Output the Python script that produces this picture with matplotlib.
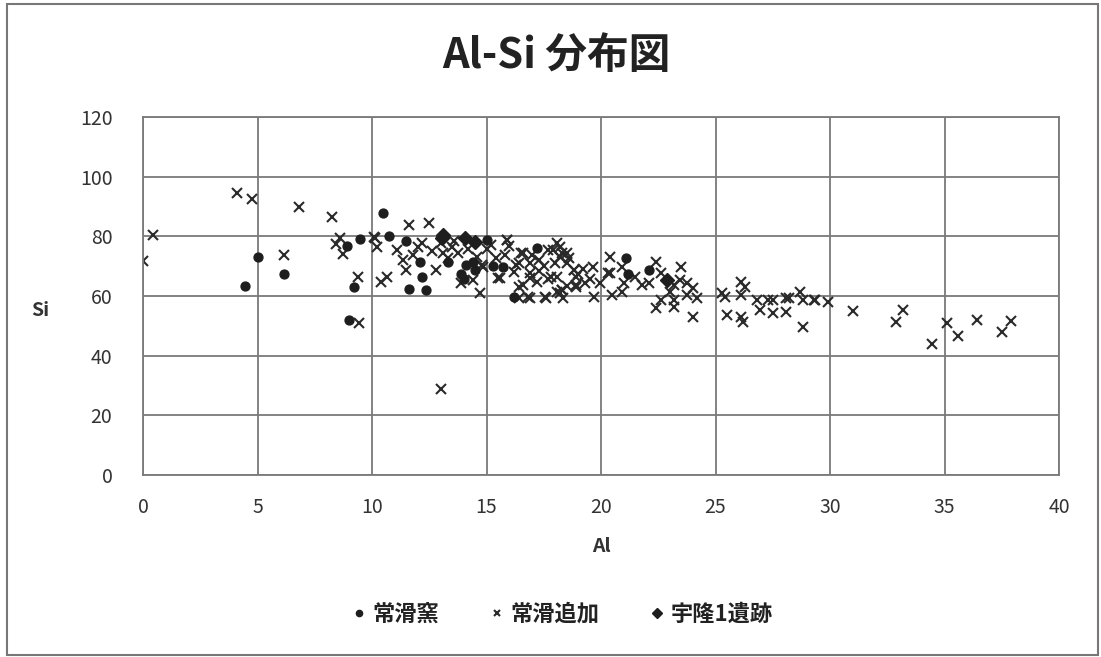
import matplotlib.pyplot as plt
from matplotlib.patches import Rectangle

plt.rcParams["font.family"] = ["Noto Sans CJK JP", "DejaVu Sans"]

# 常滑窯 (黒丸)
kama_al = [5.0, 4.45, 6.16, 8.9, 9.48, 9.2, 9.0, 10.5, 10.74, 11.5, 12.1, 12.2, 11.6,
           12.36, 13.3, 13.9, 14.0, 14.1, 14.4, 14.5, 15.0, 15.3, 15.7, 16.2, 17.2,
           21.1, 22.1, 21.2]
kama_si = [73.1, 63.4, 67.4, 76.8, 79.1, 63.0, 52.0, 87.8, 80.1, 78.4, 71.4, 66.4, 62.4,
           62.0, 71.4, 67.4, 65.7, 70.4, 71.4, 68.7, 78.8, 70.1, 69.7, 59.7, 76.1,
           72.7, 68.7, 67.4]

# 常滑追加 (×)
tsuika_al = [0.0, 0.44, 4.1, 4.76, 6.8, 6.16, 8.25, 8.43, 8.6, 8.73, 10.13, 10.2, 9.4,
             10.4, 10.65, 9.43, 13.0,
             11.6, 12.5, 10.1, 11.1, 11.35, 11.5, 12.0, 12.2, 11.8, 12.8, 13.1, 13.5,
             13.75, 13.9, 14.4, 14.7, 14.85, 15.2, 15.5, 15.9, 15.8, 16.5, 16.3, 16.6,
             16.8, 16.9, 17.2, 17.55, 17.9, 18.0, 18.2, 18.3, 18.35, 17.8, 18.1,
             15.9, 16.6, 16.4, 16.9, 17.3, 17.7, 18.1, 18.2, 18.5, 18.8, 18.9, 18.5,
             18.1, 17.7, 17.3, 16.9, 16.4, 16.9, 16.4, 15.6, 14.8, 17.6, 18.2, 18.9,
             19.2,
             13.3, 13.6, 14.2, 14.6, 15.0, 15.4, 16.0, 16.2, 17.0, 17.5, 18.6, 19.0,
             19.5, 12.6, 13.0,
             18.3, 18.5, 18.8, 18.3, 18.9, 19.3, 19.65, 19.7, 19.96, 20.4, 20.4, 20.3,
             20.5, 20.9, 21.0, 20.9, 21.5, 21.8, 22.1, 22.4, 22.6, 22.6, 22.4, 23.0,
             23.2, 23.2, 23.2, 23.5, 23.45, 23.75, 23.75, 24.0, 24.2, 24.0, 25.3, 25.4,
             26.1, 26.3, 26.1, 25.5, 26.1, 26.2, 26.8, 26.95, 27.3, 27.5, 27.5, 28.1,
             28.1, 28.2, 28.7, 28.8, 28.8, 29.3,
             29.35, 29.9, 31.0, 32.9, 33.2, 34.45, 35.1, 35.6, 36.4, 37.5, 37.9]
tsuika_si = [71.7, 80.5, 94.5, 92.5, 89.8, 73.8, 86.5, 77.4, 79.4, 74.1, 79.4, 76.4, 66.4,
             64.7, 66.4, 51.0, 28.8,
             83.8, 84.5, 79.8, 75.4, 72.1, 68.7, 76.4, 77.8, 73.7, 68.7, 74.4, 76.4,
             74.4, 64.4, 65.4, 61.0, 69.7, 77.1, 66.0, 78.8, 73.7, 74.4, 70.4, 63.7,
             59.7, 67.7, 64.7, 59.7, 75.4, 71.1, 76.4, 62.0, 59.3, 66.4, 66.4,
             78.8, 74.4, 71.1, 71.1, 72.1, 75.4, 77.8, 73.1, 74.4, 68.7, 66.4, 63.4,
             61.3, 65.8, 68.4, 66.1, 63.1, 59.3, 59.3, 66.0, 70.4, 59.3, 60.9, 63.7,
             69.1,
             72.8, 78.6, 75.6, 73.0, 75.9, 72.6, 76.9, 68.1, 73.6, 70.2, 72.9, 67.4,
             65.6, 75.1, 77.6,
             74.4, 71.1, 68.7, 62.0, 63.0, 64.4, 69.7, 59.7, 64.4, 73.1, 67.7, 67.7,
             60.3, 69.7, 64.4, 61.3, 66.4, 63.7, 64.4, 71.4, 67.7, 58.7, 56.0, 61.3,
             63.7, 58.7, 56.3, 69.7, 65.4, 64.4, 60.3, 62.7, 59.3, 53.0, 61.0, 59.7,
             64.7, 63.0, 60.3, 53.6, 53.0, 51.3, 58.7, 55.3, 58.7, 54.3, 58.7, 59.3,
             54.6, 59.3, 61.3, 58.7, 49.6, 58.7,
             58.7, 58.0, 55.0, 51.3, 55.3, 43.9, 51.0, 46.6, 52.0, 48.0, 51.6]

# 宇隆1遺跡 (◆)
uryu_al = [13.1, 13.05, 14.06, 14.5, 22.9]
uryu_si = [80.5, 79.4, 79.4, 78.1, 65.3]

x_ticks = [0, 5, 10, 15, 20, 25, 30, 35, 40]
y_ticks = [0, 20, 40, 60, 80, 100, 120]

fig = plt.figure(figsize=(11.01, 6.57), dpi=100)
ax = fig.add_axes([143 / 1101, 1 - 475 / 657, (1059 - 143) / 1101, (475 - 117) / 657])

ink = "#1e1e1e"
grid_c = "#7a7a7a"

ax.plot(kama_al, kama_si, linestyle="none", marker="o", markersize=6.4,
        color=ink, label="常滑窯", zorder=3)
ax.plot(tsuika_al, tsuika_si, linestyle="none", marker="x", markersize=6.8,
        markeredgewidth=1.5, color="#2a2a2a", label="常滑追加", zorder=2)
ax.plot(uryu_al, uryu_si, linestyle="none", marker="D", markersize=6.8,
        color=ink, label="宇隆1遺跡", zorder=4)

ax.set_xlim(0, 40)
ax.set_ylim(0, 120)
ax.set_xticks(x_ticks)
ax.set_yticks(y_ticks)
ax.tick_params(length=0, labelsize=14, labelcolor="#333333")
ax.tick_params(axis="x", pad=16)
ax.tick_params(axis="y", pad=22)
ax.grid(True, color=grid_c, linewidth=1.3)
ax.set_axisbelow(True)
for s in ax.spines.values():
    s.set_color(grid_c)
    s.set_linewidth(1.3)

fig.text(0.505, 1 - 56 / 657, "Al-Si 分布図", ha="center", va="center",
         fontsize=30, fontweight="bold", color="#222222")
fig.text(40 / 1101, 1 - 310 / 657, "Si", ha="center", va="center",
         fontsize=14, fontweight="bold", color="#333333")
fig.text(601 / 1101, 1 - 546 / 657, "Al", ha="center", va="center",
         fontsize=14, fontweight="bold", color="#333333")

leg = fig.legend(loc="center", bbox_to_anchor=(560 / 1101, 1 - 614 / 657), ncol=3,
                 frameon=False, prop={"size": 16, "weight": "bold"}, markerscale=0.7,
                 handletextpad=0.1, columnspacing=2.1, handlelength=1.0)
for t in leg.get_texts():
    t.set_color("#222222")

# 外枠
fig.patches.append(Rectangle((7 / 1101, 1 - 655 / 657), (1098 - 7) / 1101, (655 - 4) / 657,
                             transform=fig.transFigure, fill=False,
                             edgecolor="#777777", linewidth=1.5))

fig.savefig("out.png", dpi=100)
